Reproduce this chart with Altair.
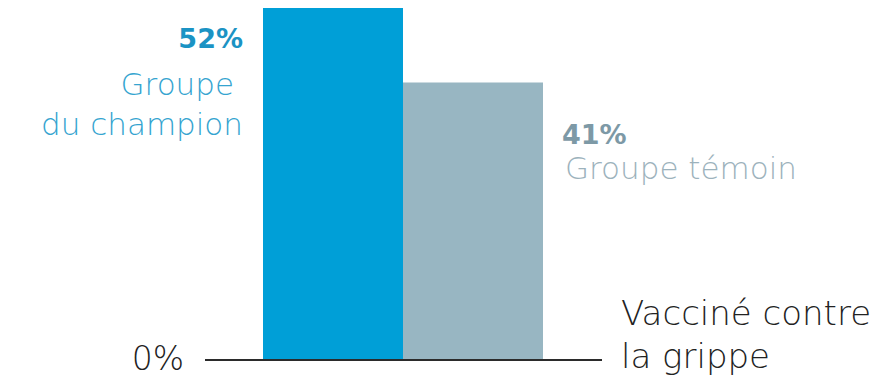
import altair as alt
import pandas as pd

groups = ["Groupe du champion", "Groupe témoin"]
values = [52, 41]
value_labels = ["52%", "41%"]
bar_colors = ["#009fd7", "#98b6c2"]

bars_df = pd.DataFrame({"groupe": groups, "valeur": values, "label": value_labels})

H = 360
y_scale = alt.Scale(domain=[0, 53.2], range=[H, 0], nice=False, zero=True)
x_scale = alt.Scale(domain=groups, range=[263, 543], paddingInner=0, paddingOuter=0)

base = alt.Chart(bars_df)

bars = base.mark_bar(opacity=1).encode(
    x=alt.X("groupe:N", scale=x_scale, axis=None, sort=groups),
    y=alt.Y("valeur:Q", scale=y_scale, axis=None),
    color=alt.Color("groupe:N", scale=alt.Scale(domain=groups, range=bar_colors), legend=None),
)

champ = base.transform_filter(alt.datum.groupe == groups[0])
temoin = base.transform_filter(alt.datum.groupe == groups[1])

FONT = "DejaVu Sans"

def txt(src, text, color, size, weight, align, dx, dy, band):
    return src.mark_text(
        font=FONT, fontSize=size, fontWeight=weight, color=color,
        align=align, baseline="alphabetic", dx=dx, dy=dy,
    ).encode(
        x=alt.X("groupe:N", scale=x_scale, axis=None, sort=groups, bandPosition=band),
        y=alt.Y("valeur:Q", scale=y_scale, axis=None),
        text=text,
    )

c1 = txt(champ, alt.Text("label:N"), "#1b93c4", 27, "bold", "right", -20, 40, 0)
c2 = txt(champ, alt.value("Groupe"), "#35a4d0", 31, 200, "right", -29, 87, 0)
c3 = txt(champ, alt.value("du champion"), "#35a4d0", 31, 200, "right", -20, 127, 0)

t1 = txt(temoin, alt.Text("label:N"), "#7d99a6", 27, "bold", "left", 19, 61, 1)
t2 = txt(temoin, alt.value("Groupe témoin"), "#9cb2bc", 31, 200, "left", 22, 96, 1)

baseline = alt.Chart(pd.DataFrame({"v": [0]})).mark_rule(color="#2b2b2b", strokeWidth=2).encode(
    x=alt.value(205), x2=alt.value(602),
    y=alt.Y("v:Q", scale=y_scale, axis=None),
)

zero_df = pd.DataFrame({"v": [0]})
zero_lbl = alt.Chart(zero_df).mark_text(
    font=FONT, fontSize=33, fontWeight=200, color="#222222", align="right", baseline="alphabetic", dy=10
).encode(x=alt.value(184), y=alt.Y("v:Q", scale=y_scale, axis=None), text=alt.value("0%"))

cat1 = alt.Chart(zero_df).mark_text(
    font=FONT, fontSize=34, fontWeight=200, color="#222222", align="left", baseline="alphabetic", dy=-35
).encode(x=alt.value(621), y=alt.Y("v:Q", scale=y_scale, axis=None), text=alt.value("Vacciné contre"))
cat2 = alt.Chart(zero_df).mark_text(
    font=FONT, fontSize=34, fontWeight=200, color="#222222", align="left", baseline="alphabetic", dy=8
).encode(x=alt.value(621), y=alt.Y("v:Q", scale=y_scale, axis=None), text=alt.value("la grippe"))

chart = alt.layer(bars, baseline, c1, c2, c3, t1, t2, zero_lbl, cat1, cat2).properties(
    width=895, height=H,
    background="white",
    autosize=alt.AutoSizeParams(type="none"),
    padding={"left": 0, "top": 0, "right": 0, "bottom": 18},
).configure_view(stroke=None, strokeWidth=0)

chart.save("out.html", embed_options={"renderer": "svg", "actions": False})
